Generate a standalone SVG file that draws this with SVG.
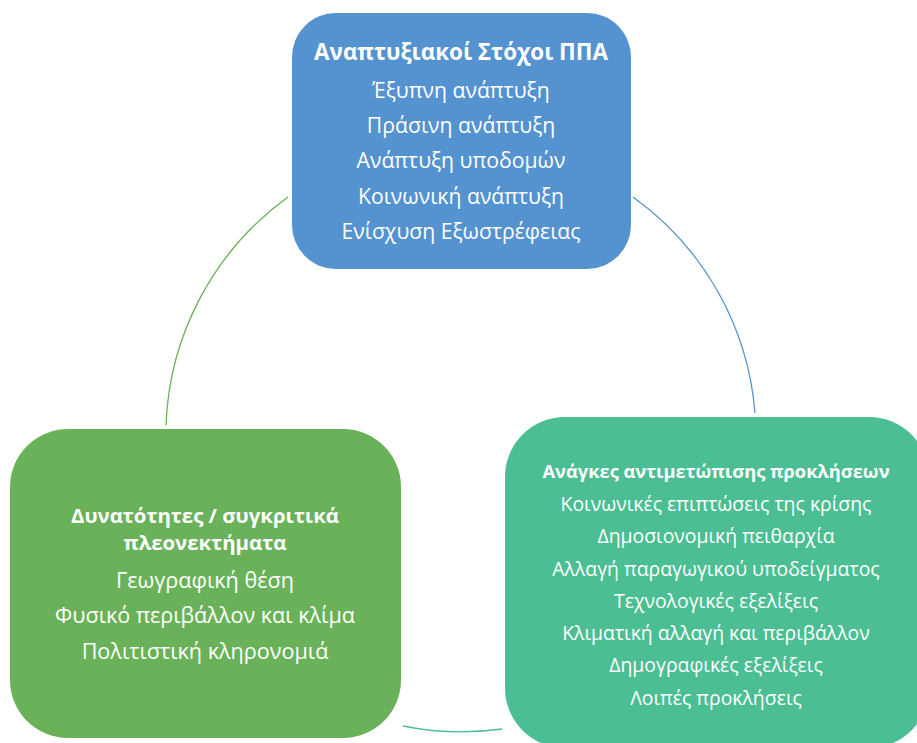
<svg xmlns="http://www.w3.org/2000/svg" width="917" height="743" viewBox="0 0 917 743">
<style>
text{font-family:"Open Sans","Noto Sans","Liberation Sans",sans-serif;fill:#fff;text-anchor:middle}
.t{font-weight:bold}
.arc{fill:none;stroke-width:1.3}
</style>
<rect width="917" height="743" fill="#fff"/>
<g id="connectors">
<path class="arc" stroke="#6AB25A" d="M288,197 A295,295 0 0 0 166,425"/>
<path class="arc" stroke="#5593D0" d="M633,197 A295,295 0 0 1 755,413"/>
<path class="arc" stroke="#4BBE93" d="M502,729 A295,295 0 0 1 403,726"/>
</g>
<g id="node-top">
<rect x="292" y="13" width="339" height="256" rx="44" fill="#5593D0"/>
<g font-size="21.2">
<text class="t" x="461" y="60" font-size="22.4">Αναπτυξιακοί Στόχοι ΠΠΑ</text>
<text x="461" y="98">Έξυπνη ανάπτυξη</text>
<text x="461" y="133">Πράσινη ανάπτυξη</text>
<text x="461" y="168">Ανάπτυξη υποδομών</text>
<text x="461" y="204">Κοινωνική ανάπτυξη</text>
<text x="461" y="239">Ενίσχυση Εξωστρέφειας</text>
</g>
</g>
<g id="node-left">
<rect x="10" y="429" width="391" height="309" rx="58" fill="#6AB25A"/>
<g font-size="21.6">
<text class="t" x="205" y="523" font-size="20.4">Δυνατότητες / συγκριτικά</text>
<text class="t" x="205" y="550" font-size="20.4">πλεονεκτήματα</text>
<text x="205" y="588">Γεωγραφική θέση</text>
<text x="205" y="623">Φυσικό περιβάλλον και κλίμα</text>
<text x="205" y="659">Πολιτιστική κληρονομιά</text>
</g>
</g>
<g id="node-right">
<rect x="505" y="417" width="424" height="331" rx="60" fill="#4BBE93"/>
<g font-size="19.4">
<text class="t" x="716" y="478" font-size="18.3">Ανάγκες αντιμετώπισης προκλήσεων</text>
<text x="716" y="511">Κοινωνικές επιπτώσεις της κρίσης</text>
<text x="716" y="543">Δημοσιονομική πειθαρχία</text>
<text x="716" y="576">Αλλαγή παραγωγικού υποδείγματος</text>
<text x="716" y="608">Τεχνολογικές εξελίξεις</text>
<text x="716" y="640">Κλιματική αλλαγή και περιβάλλον</text>
<text x="716" y="672">Δημογραφικές εξελίξεις</text>
<text x="716" y="705">Λοιπές προκλήσεις</text>
</g>
</g>
</svg>
